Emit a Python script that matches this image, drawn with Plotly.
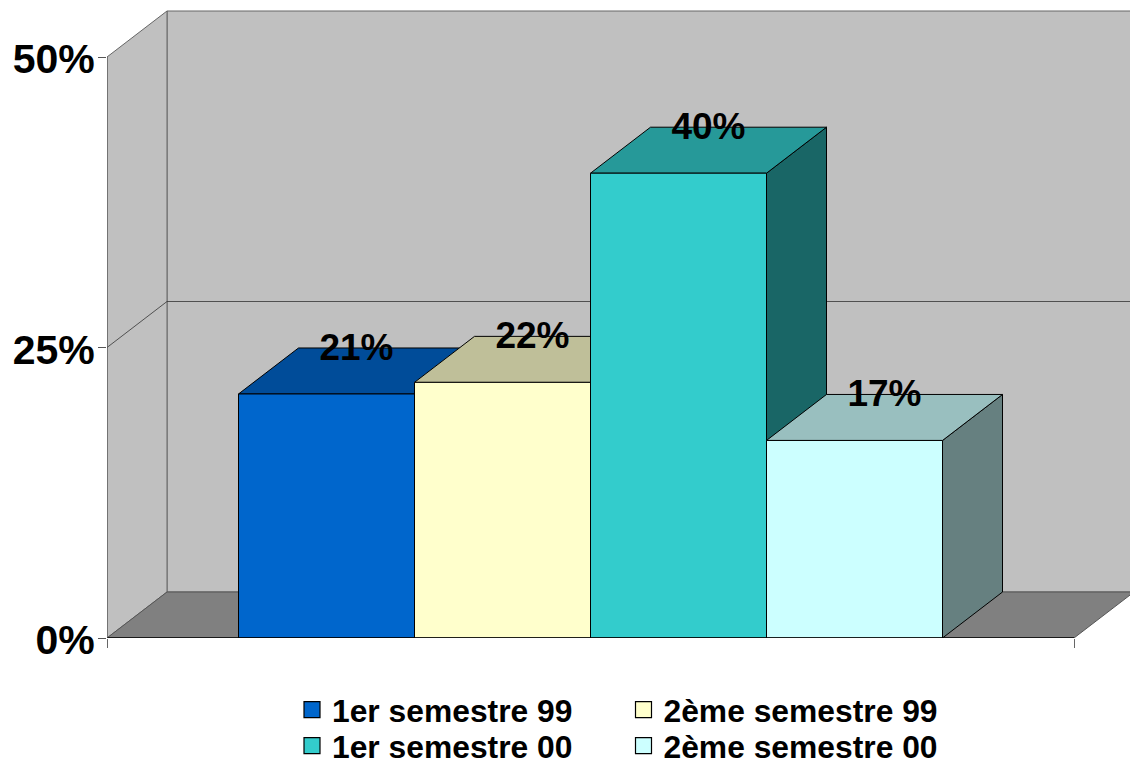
import plotly.graph_objects as go

series_names = ["1er semestre 99", "2ème semestre 99", "1er semestre 00", "2ème semestre 00"]
series_values = [21, 22, 40, 17]
value_labels = ["21%", "22%", "40%", "17%"]
front_colors = ["#0066CC", "#FFFFCC", "#33CCCC", "#CCFFFF"]
top_colors = ["#004C99", "#BFBF99", "#269999", "#99BFBF"]
side_colors = ["#003366", "#808066", "#196666", "#668080"]
y_ticks = [0, 25, 50]
y_tick_labels = ["0%", "25%", "50%"]

PX_X = 176.0
PX_Y = 11.62
DX = 60 / PX_X
DY = 46 / PX_Y
X_ORIGIN = 238.5
X_L = (107 - X_ORIGIN) / PX_X
X_R = (1074 - X_ORIGIN) / PX_X
X_MAX = (1130 - X_ORIGIN) / PX_X
Y_MAX = 638 / PX_Y
FONT = "Liberation Sans"
LINE = "#000000"

fig = go.Figure()


def poly(xs, ys, fill, lw=1, color=LINE):
    fig.add_trace(go.Scatter(
        x=xs, y=ys, mode="lines", fill="toself", fillcolor=fill,
        line=dict(color=color, width=lw), showlegend=False, hoverinfo="skip"))


def seg(xs, ys, lw=1, color="#222222", clip=True):
    fig.add_trace(go.Scatter(
        x=xs, y=ys, mode="lines", line=dict(color=color, width=lw),
        showlegend=False, hoverinfo="skip", cliponaxis=clip))


top = y_ticks[-1]
# back wall, side wall, floor
poly([X_L + DX, X_R + 2 * DX, X_R + 2 * DX, X_L + DX, X_L + DX],
     [DY, DY, top + DY, top + DY, DY], "#C0C0C0", 1, "#666666")
poly([X_L, X_L + DX, X_L + DX, X_L, X_L],
     [0, DY, top + DY, top, 0], "#C0C0C0", 1, "#666666")
poly([X_L, X_L + DX, X_R + 2 * DX, X_R + DX, X_R, X_L],
     [0, DY, DY, DY, 0, 0], "#808080", 1, "#555555")
for t in y_ticks[1:-1]:
    seg([X_L, X_L + DX, X_R + 2 * DX], [t, t + DY, t + DY], 0.8, "#333333")

# bars, left to right
for i, v in enumerate(series_values):
    x0, x1 = i, i + 1
    poly([x1, x1 + DX, x1 + DX, x1, x1], [0, DY, v + DY, v, 0], side_colors[i])
    poly([x0, x1, x1 + DX, x0 + DX, x0], [v, v, v + DY, v + DY, v], top_colors[i])
    poly([x0, x1, x1, x0, x0], [0, 0, v, v, 0], front_colors[i])

# axis lines
seg([X_L, X_R], [0, 0], 1.3, "#000000", False)
seg([X_L, X_L], [0, top], 1, "#555555", False)

# value labels
fig.add_trace(go.Scatter(
    x=[i + 0.5 + DX / 2 for i in range(len(series_values))],
    y=[v + DY - 0.2 for v in series_values],
    mode="text", text=value_labels, textposition="middle center",
    textfont=dict(family=FONT, size=37, color="#000000", weight="bold"),
    showlegend=False, hoverinfo="skip", cliponaxis=False))

# legend entries, one small legend per entry
legend_ids = ["legend", "legend2", "legend3", "legend4"]
for n, c, lid in zip(series_names, front_colors, legend_ids):
    fig.add_trace(go.Scatter(
        x=[None], y=[None], mode="markers", name=n,
        marker=dict(symbol="square", size=21, color=c, line=dict(color="#000000", width=1.2)),
        legend=lid))


def legend_at(px, py):
    return dict(
        orientation="v", bgcolor="rgba(0,0,0,0)", borderwidth=0,
        font=dict(family=FONT, size=31.8, color="#000000", weight="bold"),
        xanchor="left", yanchor="middle", itemsizing="trace",
        xref="paper", yref="container",
        x=(px - 107) / 1023, y=1 - py / 762)


fig.update_layout(
    width=1130, height=762, autosize=False,
    margin=dict(l=107, r=0, t=0, b=124),
    paper_bgcolor="#FFFFFF", plot_bgcolor="#FFFFFF",
    xaxis=dict(range=[X_L, X_MAX], showgrid=False, zeroline=False, showline=False,
               tickmode="array", tickvals=[X_L, X_R], ticktext=["", ""],
               ticks="outside", ticklen=9, tickwidth=1, tickcolor="#666666"),
    yaxis=dict(range=[0, Y_MAX], showgrid=False, zeroline=False, showline=False,
               tickmode="array", tickvals=y_ticks, ticktext=y_tick_labels,
               ticks="outside", ticklen=8, tickwidth=1, tickcolor="#555555",
               ticklabelstandoff=-5, ticklabelshift=2,
               tickfont=dict(family=FONT, size=41, color="#000000", weight="bold")),
    legend=legend_at(292, 710),
    legend2=legend_at(623.5, 710),
    legend3=legend_at(292, 746),
    legend4=legend_at(623.5, 746),
)

fig.write_html("out.html", config={"displayModeBar": False},
               post_script="document.body.style.margin='0';document.documentElement.style.overflow='hidden';")
